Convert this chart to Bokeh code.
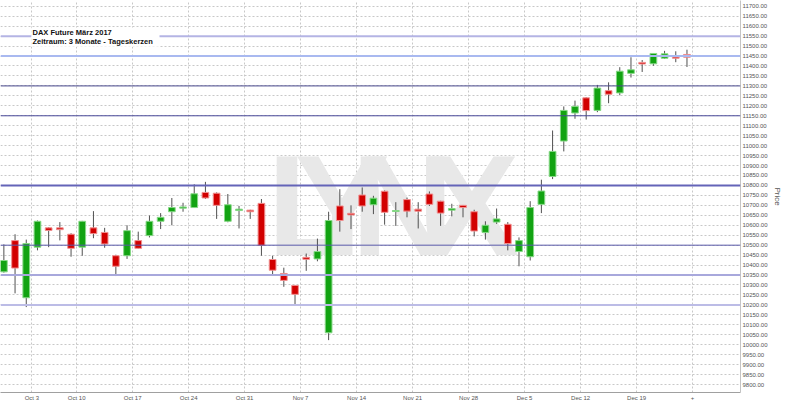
import datetime as dt
from bokeh.plotting import figure
from bokeh.models import (Range1d, FixedTicker, Span, BoxAnnotation, Label,
                          ColumnDataSource, NumeralTickFormatter)
from bokeh.embed import file_html
from bokeh.resources import INLINE

# ---------------- data ----------------
dates = ["2016-09-28", "2016-09-29", "2016-09-30",
         "2016-10-04", "2016-10-05", "2016-10-06", "2016-10-07",
         "2016-10-10", "2016-10-11", "2016-10-12", "2016-10-13", "2016-10-14",
         "2016-10-17", "2016-10-18", "2016-10-19", "2016-10-20", "2016-10-21",
         "2016-10-24", "2016-10-25", "2016-10-26", "2016-10-27", "2016-10-28",
         "2016-10-31", "2016-11-01", "2016-11-02", "2016-11-03", "2016-11-04",
         "2016-11-07", "2016-11-08", "2016-11-09", "2016-11-10", "2016-11-11",
         "2016-11-14", "2016-11-15", "2016-11-16", "2016-11-17", "2016-11-18",
         "2016-11-21", "2016-11-22", "2016-11-23", "2016-11-24", "2016-11-25",
         "2016-11-28", "2016-11-29", "2016-11-30", "2016-12-01", "2016-12-02",
         "2016-12-05", "2016-12-06", "2016-12-07", "2016-12-08", "2016-12-09",
         "2016-12-12", "2016-12-13", "2016-12-14", "2016-12-15", "2016-12-16",
         "2016-12-19", "2016-12-20", "2016-12-21", "2016-12-22", "2016-12-23"]

opens = [10366, 10523, 10236, 10490, 10587, 10587, 10555, 10490, 10587, 10564,
         10447, 10447, 10523, 10548, 10620, 10668, 10686, 10689, 10765, 10761,
         10620, 10674, 10676, 10710, 10428, 10358, 10298, 10439, 10431, 10060,
         10697, 10660, 10752, 10703, 10771, 10669, 10729, 10681, 10757, 10721,
         10676, 10700, 10668, 10564, 10616, 10605, 10468, 10442, 10705, 10845,
         11023, 11164, 11240, 11177, 11276, 11265, 11363, 11418, 11411, 11439,
         11445, 11458]
highs = [10504, 10555, 10528, 10624, 10590, 10616, 10560, 10622, 10671, 10587,
         10452, 10600, 10568, 10649, 10661, 10737, 10713, 10806, 10818, 10765,
         10757, 10697, 10678, 10732, 10447, 10387, 10300, 10458, 10533, 10668,
         10781, 10700, 10790, 10748, 10775, 10716, 10739, 10716, 10770, 10723,
         10708, 10702, 10678, 10620, 10684, 10616, 10539, 10721, 10829, 11076,
         11197, 11226, 11243, 11305, 11318, 11394, 11444, 11430, 11465, 11476,
         11474, 11482]
lows = [10362, 10258, 10189, 10474, 10490, 10524, 10442, 10447, 10535, 10487,
        10345, 10431, 10482, 10539, 10581, 10600, 10668, 10687, 10732, 10632,
        10615, 10584, 10632, 10447, 10347, 10291, 10197, 10371, 10419, 10023,
        10568, 10581, 10668, 10656, 10603, 10597, 10640, 10584, 10697, 10597,
        10645, 10640, 10544, 10528, 10607, 10474, 10394, 10423, 10661, 10832,
        10971, 11135, 11131, 11168, 11213, 11253, 11342, 11370, 11401, 11435,
        11419, 11395]
closes = [10423, 10385, 10508, 10620, 10574, 10578, 10484, 10620, 10558, 10506,
          10394, 10573, 10484, 10620, 10640, 10689, 10692, 10758, 10737, 10700,
          10703, 10681, 10668, 10499, 10374, 10323, 10253, 10429, 10468, 10624,
          10624, 10652, 10697, 10736, 10665, 10674, 10671, 10671, 10705, 10661,
          10684, 10689, 10571, 10600, 10632, 10508, 10523, 10689, 10772, 10971,
          11177, 11197, 11176, 11289, 11258, 11374, 11381, 11410, 11463, 11461,
          11439, 11444]

levels = [11550, 11450, 11300, 11150, 10800, 10500, 10350, 10200]
level_colors = ["#b4b4e4", "#a9b9f0", "#4a4a8e", "#4a4a9a",
                "#6464b8", "#5a5aaa", "#a8a8dc", "#bcbce6"]
level_widths = [2, 2, 1, 1, 2, 1, 2, 2]

price_ticks = list(range(9800, 11701, 50))
title_lines = ["DAX Future März 2017", "Zeitraum: 3 Monate - Tageskerzen"]
end_label = "+"
watermark = "LYNX"
y_label = "Price"

# ---------------- derived ----------------
ds = [dt.date.fromisoformat(d) for d in dates]
idx = list(range(len(ds)))
week_pos, week_lab = [], []
for i in range(1, len(ds)):
    if ds[i].isocalendar()[1] != ds[i - 1].isocalendar()[1]:
        monday = ds[i] - dt.timedelta(days=ds[i].weekday())
        week_pos.append(i - 0.5)
        week_lab.append(monday.strftime("%b ") + str(monday.day))
week_pos.append(len(ds) - 0.5)
week_lab.append(end_label)

up = [c >= o for o, c in zip(opens, closes)]
src = ColumnDataSource(dict(
    x=idx, o=opens, h=highs, l=lows, c=closes,
    top=[max(o, c) for o, c in zip(opens, closes)],
    bot=[min(o, c) for o, c in zip(opens, closes)],
    fill=["#12a312" if u else "#d20000" for u in up],
    edge=["#86d886" if u else "#f09090" for u in up],
))

# ---------------- figure ----------------
p = figure(width=784, height=403, output_backend="svg", toolbar_location=None,
           x_range=Range1d(-0.30, 65.78), y_range=Range1d(9760, 11729),
           y_axis_location="right", min_border_left=0, min_border_top=0,
           min_border_right=0, min_border_bottom=0)
p.outline_line_color = None
p.background_fill_color = "white"

# watermark
for ch, xx in zip(watermark, [27.4, 30.2, 35.6, 41.8]):
    p.add_layout(Label(x=xx, y=10700, text=ch, text_font="Liberation Sans",
                       text_font_style="bold", text_font_size="142px",
                       text_color="#e8e8e8", text_align="center",
                       text_baseline="alphabetic", level="underlay"))

# grids
p.xgrid.ticker = FixedTicker(ticks=week_pos)
p.ygrid.ticker = FixedTicker(ticks=price_ticks)
for g in (p.xgrid, p.ygrid):
    g.grid_line_color = "#c8c8c8"
    g.grid_line_dash = "2 2"
    g.grid_line_width = 1

# level lines
for lv, col, w in zip(levels, level_colors, level_widths):
    p.add_layout(Span(location=lv, dimension="width", line_color=col,
                      line_width=w))

# candles
p.segment(x0="x", y0="h", x1="x", y1="l", source=src, line_color="#505050",
          line_width=1)
p.vbar(x="x", width=0.6, top="top", bottom="bot", source=src,
       fill_color="fill", line_color="edge", line_width=1)

# title box
p.add_layout(BoxAnnotation(left=2.45, right=13.9, top=11594, bottom=11497,
                           fill_color="white", fill_alpha=1, line_color=None))
for t, yy in zip(title_lines, [11569, 11521]):
    p.add_layout(Label(x=2.56, y=yy, text=t, text_font="Liberation Sans",
                       text_font_style="bold", text_font_size="7.5px",
                       text_color="#111111", text_baseline="middle"))

# axes
xa = p.xaxis[0]
xa.ticker = FixedTicker(ticks=week_pos)
xa.major_label_overrides = {pos: lab for pos, lab in zip(week_pos, week_lab)}
xa.axis_label = None
ya = p.yaxis[0]
ya.ticker = FixedTicker(ticks=price_ticks)
ya.formatter = NumeralTickFormatter(format="0.00")
ya.axis_label = y_label
for ax in (xa, ya):
    ax.major_label_text_font = "Liberation Sans"
    ax.major_label_text_font_size = "6px"
    ax.major_label_text_color = "#555555"
    ax.major_tick_out = 0
    ax.major_tick_in = 0
    ax.minor_tick_out = 0
    ax.minor_tick_in = 0
    ax.major_label_standoff = 2
xa.axis_line_color = "#a0a0a0"
ya.axis_line_color = "#c4c4c4"
ya.axis_label_text_font = "Liberation Sans"
ya.axis_label_text_font_size = "8px"
ya.axis_label_text_font_style = "normal"
ya.axis_label_text_color = "#555555"
ya.axis_label_standoff = 2

open("out.html", "w").write(file_html(p, INLINE))
